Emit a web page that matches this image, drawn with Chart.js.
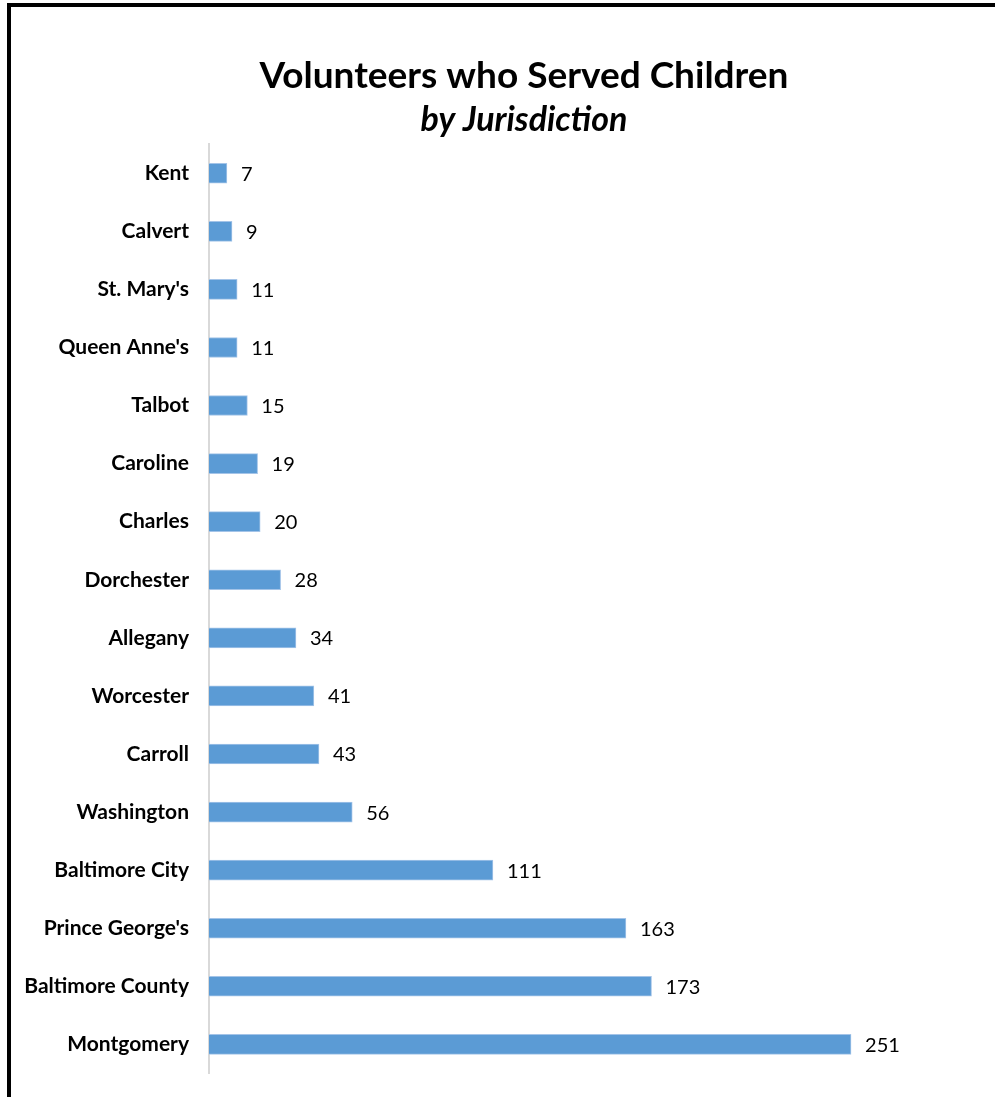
<!DOCTYPE html>
<html>
<head>
<meta charset="utf-8">
<script src="https://cdn.jsdelivr.net/npm/chart.js@4.4.1/dist/chart.umd.min.js"></script>
<style>
  html, body { margin: 0; padding: 0; background: #fff; overflow: hidden; }
  #wrap { position: relative; width: 995px; height: 1097px; overflow: hidden; }
  #frame {
    position: absolute; left: 7px; top: 3px; width: 1200px; height: 1092px;
    border-left: 4px solid #000; border-top: 4px solid #000;
    border-bottom: 1px solid #e6e6e6; pointer-events: none;
  }
  canvas { position: absolute; left: 0; top: 0; }
</style>
</head>
<body>
<div id="wrap">
  <canvas id="barChart" width="1048" height="1106"></canvas>
  <div id="frame"></div>
</div>
<script>
// Jurisdictions, top to bottom
const jurisdictions = ['Kent', 'Calvert', "St. Mary's", "Queen Anne's", 'Talbot', 'Caroline',
  'Charles', 'Dorchester', 'Allegany', 'Worcester', 'Carroll', 'Washington',
  'Baltimore City', "Prince George's", 'Baltimore County', 'Montgomery'];
const volunteers = [7, 9, 11, 11, 15, 19, 20, 28, 34, 41, 43, 56, 111, 163, 173, 251];

Chart.defaults.font.family = 'Lato';
Chart.defaults.color = '#000';

// value labels to the right of each bar
const barLabels = {
  id: 'barLabels',
  afterDatasetsDraw(chart) {
    const ctx = chart.ctx;
    const meta = chart.getDatasetMeta(0);
    ctx.save();
    ctx.font = '20px Lato';
    ctx.fillStyle = '#000';
    ctx.textAlign = 'left';
    ctx.textBaseline = 'middle';
    meta.data.forEach((bar, i) => {
      ctx.fillText(volunteers[i], bar.x + 14, bar.y + 1);
    });
    ctx.restore();
  }
};

const ctx = document.getElementById('barChart').getContext('2d');
new Chart(ctx, {
  type: 'bar',
  data: {
    labels: jurisdictions,
    datasets: [{
      data: volunteers,
      backgroundColor: '#5b9bd5',
      borderColor: '#a4c4e8',
      borderWidth: 1,
      barThickness: 20
    }]
  },
  options: {
    indexAxis: 'y',
    responsive: false,
    animation: false,
    layout: { padding: { left: 0, right: 0, top: 0, bottom: 0 } },
    plugins: {
      legend: { display: false },
      tooltip: { enabled: false },
      title: {
        display: true,
        text: 'Volunteers who Served Children',
        font: { size: 37, weight: 'bold' },
        color: '#000',
        padding: { top: 54, bottom: 1 }
      },
      subtitle: {
        display: true,
        text: 'by Jurisdiction',
        font: { size: 34, weight: 'bold', style: 'italic' },
        color: '#000',
        padding: { top: 0, bottom: 4 }
      }
    },
    scales: {
      x: {
        display: false,
        min: 0,
        max: 328
      },
      y: {
        afterFit(scale) { scale.width = 209; },
        grid: { display: false, drawTicks: false },
        border: { display: true, color: '#d9d9d9', width: 2 },
        ticks: {
          font: { size: 21, weight: 'bold' },
          color: '#000',
          padding: 20
        }
      }
    }
  },
  plugins: [barLabels]
});
</script>
</body>
</html>
